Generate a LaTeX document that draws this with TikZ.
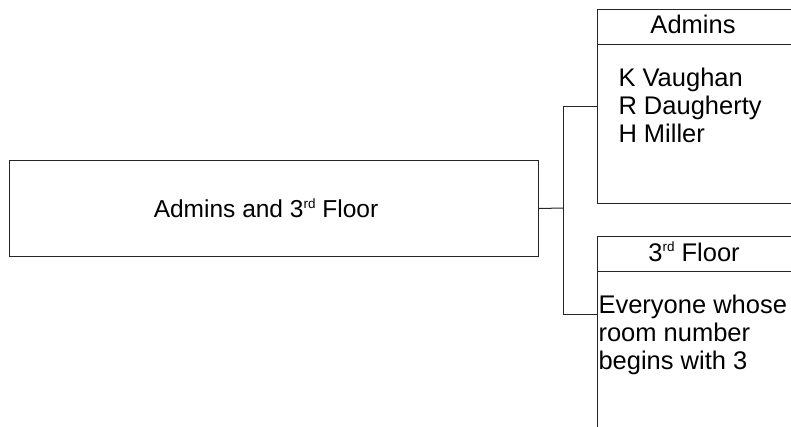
\documentclass[tikz,border=0pt]{standalone}
\usepackage{fontspec}
\setmainfont{Liberation Sans}
\newcommand\mysupr[1]{\raisebox{0.36em}{\fontsize{13.5}{14}\selectfont #1}}
\begin{document}
\begin{tikzpicture}[x=1pt,y=-1pt,line width=1pt,
  box/.style={draw=black!85,rectangle,inner sep=0pt,anchor=north west},
  conn/.style={draw=black!85},
  ttl/.style={inner sep=0pt,anchor=base,font=\fontsize{25.5}{28}\selectfont},
  lbl/.style={inner sep=0pt,anchor=base west,font=\fontsize{25.5}{28}\selectfont},
  maintxt/.style={inner sep=0pt,anchor=base,font=\fontsize{24.5}{28}\selectfont}]
\clip (0,0) rectangle (791,426);
\fill[white] (0,0) rectangle (791,426);
% main box
\node[box,minimum width=529pt,minimum height=96pt] (main) at (9,160) {};
\node[maintxt] (mt) at (266,217) {Admins and 3\mysupr{rd} Floor};
% admins box
\node[box,minimum width=220pt,minimum height=194pt] (adm) at (597,9) {};
\coordinate (admhl) at (597,44);
\coordinate (admhr) at (820,44);
\draw[conn] (admhl) -- (admhr);
\node[ttl] (admt) at (693,33) {Admins};
\node[lbl] (n1) at (618,86) {K Vaughan};
\node[lbl] (n2) at (618,114) {R Daugherty};
\node[lbl] (n3) at (618,142) {H Miller};
% 3rd floor box
\node[box,minimum width=220pt,minimum height=220pt] (flr) at (597,236) {};
\coordinate (flrhl) at (597,271);
\coordinate (flrhr) at (820,271);
\draw[conn] (flrhl) -- (flrhr);
\node[ttl] (flrt) at (694,261) {3\mysupr{rd} Floor};
\node[lbl] (f1) at (598,313) {Everyone whose};
\node[lbl] (f2) at (598,341) {room number};
\node[lbl] (f3) at (598,369) {begins with 3};
% connectors
\coordinate (j) at (563,208);
\coordinate (ja) at (597,106);
\coordinate (jf) at (597,314);
\draw[conn] (main.east) -- (j);
\draw[conn] (j) |- (ja);
\draw[conn] (j) |- (jf);
\end{tikzpicture}
\end{document}
